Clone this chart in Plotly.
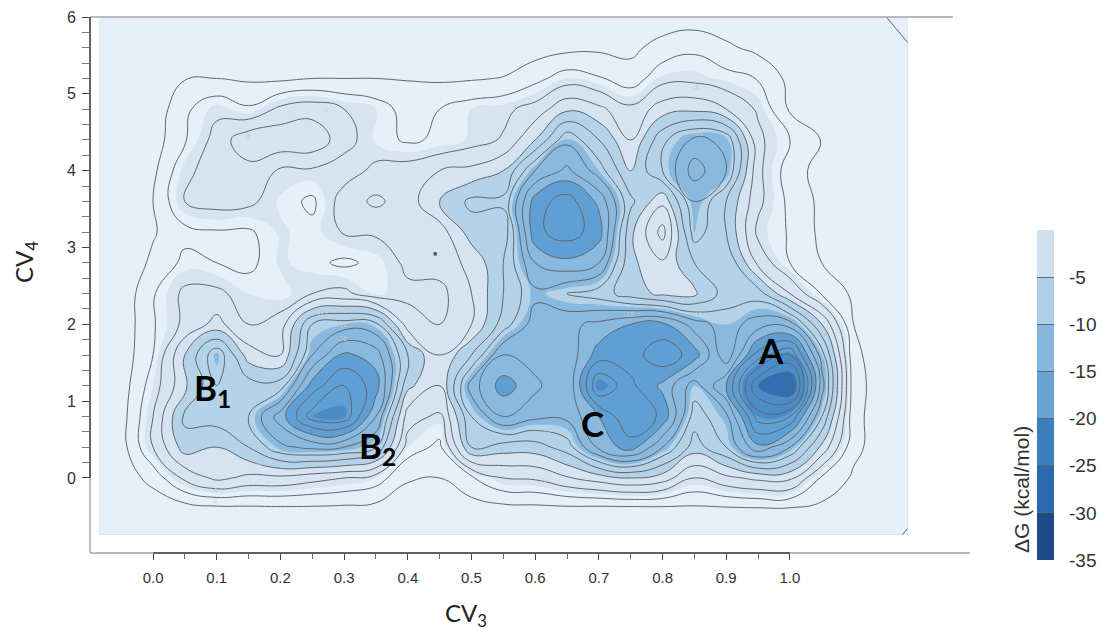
import plotly.graph_objects as go

xs = [-0.085, -0.05, 0.0, 0.05, 0.1, 0.15, 0.2, 0.25, 0.3, 0.35, 0.4, 0.45, 0.5, 0.55, 0.6, 0.65, 0.7, 0.75, 0.8, 0.85, 0.9, 0.95, 1.0, 1.05, 1.1, 1.15, 1.185]
ys = [-0.74, -0.4, 0.0, 0.4, 0.8, 1.2, 1.6, 2.0, 2.4, 2.8, 3.2, 3.6, 4.0, 4.4, 4.8, 5.2, 5.6, 6.0]
dg = [
 [-.4,-.4,-.4,-.4,-.4,-.4,-.4,-.4,-.4,-.4,-.4,-.4,-.4,-.4,-.4,-.4,-.4,-.4,-.4,-.4,-.4,-.4,-.4,-.4,-.4,-.3,.1],
 [-.3,-.4,-.6,-1.0,-1.4,-1.5,-1.6,-1.6,-1.5,-1.3,-.9,-.7,-1.0,-1.3,-1.4,-1.5,-1.4,-1.4,-1.5,-1.6,-1.7,-1.8,-1.8,-1.5,-1.0,-.4,-.3],
 [-.4,-.8,-2.7,-6.5,-8.5,-7.5,-7.5,-6.7,-6,-5,-2.2,-2,-3.7,-6,-6.3,-7.8,-9,-10,-9,-6,-7.5,-8.5,-8.5,-3.7,-1.7,-.6,-.4],
 [-.4,-1.1,-6,-11,-10,-12,-15.5,-16.5,-16,-14,-5,-3.5,-12,-11,-11,-13,-18.5,-21,-16,-11,-14,-19.5,-16,-9.5,-2.5,-.9,-.5],
 [-.4,-1.1,-6,-12.5,-13,-14,-19,-25,-25.5,-18,-7,-5.5,-14,-18,-16.5,-16.5,-20,-24,-21.5,-13,-15.5,-25,-24,-14,-2.6,-.8,-.4],
 [-.4,-.9,-5,-9.5,-14,-13,-13,-21,-24,-21,-10.5,-8,-17,-21,-18.5,-16,-26,-22.5,-19.5,-15,-20,-30,-33,-17,-2.8,-.8,-.4],
 [-.4,-.7,-4,-10,-15.5,-9,-8,-16,-20.5,-19,-12,-8,-12,-18,-17,-16.5,-21,-21,-23.5,-21,-14.5,-23,-26,-15,-2.5,-.7,-.4],
 [-.3,-.6,-3.8,-6.5,-8.7,-6,-7,-14,-15,-14.5,-7,-6,-8,-13,-17,-17.5,-18.5,-20,-20.5,-17,-15,-17,-17,-10,-2,-.6,-.4],
 [-.3,-.5,-3.8,-6.5,-6.5,-5,-4.5,-6,-6.5,-4.8,-5.5,-5.3,-8,-12,-15.5,-14,-13,-11,-9.5,-9.5,-13,-13,-8,-3.8,-1.6,-.6,-.4],
 [-.3,-.5,-2.4,-4.5,-4,-3.5,-5.2,-4.5,-3.6,-4.5,-6.5,-7,-8.5,-12,-18,-19.5,-18,-10.5,-8.3,-12,-14,-7.5,-4,-2,-.8,-.4,-.3],
 [-.3,-.5,-1.8,-3.4,-3.8,-3.7,-5.2,-4.5,-6.2,-6.3,-6.5,-7,-11,-10.5,-21.5,-23,-21,-10.5,-5.2,-15,-12,-5.5,-3.8,-1.5,-.6,-.4,-.3],
 [-.3,-.5,-2,-6,-6.8,-6.5,-4.8,-3.6,-7,-8.4,-7,-10,-12.5,-12.5,-21,-23,-19.5,-12.5,-8.5,-16,-12,-6.5,-3.5,-1.5,-.6,-.4,-.3],
 [-.3,-.5,-1.5,-5.5,-7,-7.3,-5.7,-5.7,-5,-6.5,-7,-8,-8.5,-10,-16,-18.5,-15,-10,-14,-19,-16,-6.5,-3,-1.2,-.5,-.4,-.3],
 [-.3,-.4,-1,-3.8,-6.8,-9.5,-9.5,-9.5,-6.8,-4.8,-3.7,-4.3,-5.2,-6.2,-10,-15.5,-12,-8,-13.5,-16.5,-15.5,-6.5,-4,-1.9,-.6,-.4,-.3],
 [-.3,-.4,-.6,-3.6,-5.5,-4.3,-6.5,-7.2,-6,-5,-3.2,-4,-5,-5.5,-6.8,-9.6,-8.5,-6.5,-9,-9.5,-8,-5.7,-1.7,-.7,-.4,-.3,-.3],
 [-.3,-.4,-.5,-1.9,-2,-1.7,-1.6,-2,-2,-2,-1.9,-1.7,-1.8,-2.1,-3.4,-5,-4.2,-2.9,-5.3,-5.4,-4.7,-3.9,-1.4,-.6,-.4,-.3,-.3],
 [-.3,-.3,-.3,-.3,-.3,-.3,-.3,-.3,-.3,-.3,-.3,-.3,-.4,-.5,-1,-1.4,-1.6,-1.5,-2.8,-3.6,-2.4,-1.4,-.7,-.4,-.3,-.3,-.1],
 [-.3,-.3,-.3,-.3,-.3,-.3,-.3,-.3,-.3,-.3,-.3,-.3,-.3,-.3,-.3,-.4,-.4,-.4,-.7,-.8,-.6,-.4,-.3,-.3,-.2,-.02,.5],
]
fill_colors = ["#2f6fb5", "#4a8cc8", "#5f9fd3", "#8ab9df", "#b4d2e8", "#d6e4f1", "#e6f0f9"]
bar_values = [-32.5, -27.5, -22.5, -17.5, -12.5, -7.5, -2.5]
bar_colors = ["#1c4a8a", "#2a69ad", "#3c7fc0", "#6aa3cf", "#85b6e0", "#aecde6", "#cfe0f0"]
bar_ticks = [-5, -10, -15, -20, -25, -30, -35]
bar_tick_text = ["-5", "-10", "-15", "-20", "-25", "-30", "-35"]
x_ticks = [0.0, 0.1, 0.2, 0.3, 0.4, 0.5, 0.6, 0.7, 0.8, 0.9, 1.0]
x_minor = [0.05, 0.15, 0.25, 0.35, 0.45, 0.55, 0.65, 0.75, 0.85, 0.95]
y_ticks = [0, 1, 2, 3, 4, 5, 6]
y_minor = [i / 5 for i in range(31) if i % 5]
labels = [("A", 0.97, 1.667), ("B<sub>1</sub>", 0.093, 1.146), ("B<sub>2</sub>", 0.353, 0.40), ("C", 0.69, 0.716)]
level_x = [0.095, 0.095, 0.163, 0.267, 0.296, 0.297, 0.615, 0.747, 0.854, 0.61, 0.853, 0.855, 0.27, 0.148]
level_y = [-0.29, -0.16, 0.2, 2.14, 1.99, 1.82, 0.62, 2.13, 2.13, -0.03, 5.08, 4.49, 4.8, 4.44]
level_v = [-2, -4, -10, -12, -14, -16, -18, -18, -16, -6, -8, -16, -6, -8]
dot_x = [0.443]
dot_y = [2.917]

def stepped(colors):
    n = len(colors)
    out = []
    for i, c in enumerate(colors):
        out += [[i / n, c], [(i + 1) / n, c]]
    return out

W, H = 1103, 630
fig = go.Figure()
fig.add_trace(go.Contour(x=xs, y=ys, z=dg, zmin=-35, zmax=0, colorscale=stepped(fill_colors), showscale=False,
    autocontour=False, contours=dict(start=-35, end=0, size=5, coloring="fill", showlines=False),
    line=dict(width=0, smoothing=1.3), hoverinfo="skip"))
fig.add_trace(go.Contour(x=xs, y=ys, z=dg, showscale=False, autocontour=False,
    contours=dict(start=-34, end=0, size=2, coloring="none"),
    line=dict(color="#5e666e", width=1, smoothing=1.3), hoverinfo="skip"))
fig.add_trace(go.Scatter(x=dot_x, y=dot_y, mode="markers", marker=dict(size=4, color="#55606a"), hoverinfo="skip"))
fig.add_trace(go.Heatmap(x=[0], y=bar_values, z=[[v] for v in bar_values], xaxis="x2", yaxis="y2", showscale=False,
    zmin=-35, zmax=0, colorscale=stepped(bar_colors), hoverinfo="skip"))

for x, y, v in zip(level_x, level_y, level_v):
    fig.add_annotation(x=x, y=y, text=str(v), showarrow=False,
        font=dict(family="Liberation Sans", size=7, color="#c2ccd6"))
for t, x, y in labels:
    fig.add_annotation(x=x, y=y, text="<b>%s</b>" % t, showarrow=False, font=dict(family="Lato", size=35, color="#000"))
center = dict(xanchor="center", yanchor="middle", xref="paper", yref="paper", showarrow=False)
fig.add_annotation(x=466 / W, y=1 - 614 / H, text="CV<sub>3</sub>", font=dict(family="Lato", size=24, color="#222"), **center)
fig.add_annotation(x=25 / W, y=1 - 262 / H, text="CV<sub>4</sub>", textangle=-90, font=dict(family="Lato", size=24, color="#222"), **center)
fig.add_annotation(x=1021 / W, y=1 - 490 / H, text="\u0394G (kcal/mol)", textangle=-90, font=dict(family="Liberation Sans", size=21, color="#333"), **center)

frame = dict(color="#a6a6a6", width=1.5)
dark = dict(color="#444444", width=1.5)
shapes = [
    dict(type="line", xref="paper", yref="paper", x0=90 / W, x1=953 / W, y0=1 - 17 / H, y1=1 - 17 / H, line=frame),
    dict(type="line", xref="paper", yref="paper", x0=90 / W, x1=970 / W, y0=1 - 553 / H, y1=1 - 553 / H, line=frame),
    dict(type="line", xref="paper", yref="paper", x0=90 / W, x1=90 / W, y0=1 - 553 / H, y1=1 - 17 / H, line=frame),
    dict(type="line", xref="x", yref="paper", x0=x_ticks[0], x1=x_ticks[-1], y0=1 - 553 / H, y1=1 - 553 / H, line=dark),
    dict(type="line", xref="paper", yref="y", x0=90 / W, x1=90 / W, y0=y_ticks[0], y1=y_ticks[-1], line=dark),
]

fig.update_layout(width=W, height=H, margin=dict(l=0, r=0, t=0, b=0), paper_bgcolor="white", plot_bgcolor="white", showlegend=False, shapes=shapes,
    xaxis=dict(domain=[90 / W, 953 / W], range=[-0.099, 1.256], automargin=False, tickvals=x_ticks, tickformat=".1f", ticks="outside", ticklen=6, tickcolor="#444",
        showgrid=False, zeroline=False, showline=False, ticklabelstandoff=5,
        minor=dict(tickvals=x_minor, ticks="outside", ticklen=5, tickcolor="#666"), tickfont=dict(family="Liberation Sans", size=15, color="#333")),
    yaxis=dict(domain=[1 - 553 / H, 1 - 17 / H], range=[-0.977, 6.0], automargin=False, tickvals=y_ticks, ticks="outside", ticklen=7, tickcolor="#444",
        showgrid=False, zeroline=False, showline=False, ticklabelstandoff=3,
        minor=dict(tickvals=y_minor, ticks="outside", ticklen=7, tickcolor="#777"),
        tickfont=dict(family="Liberation Sans", size=16, color="#333")),
    xaxis2=dict(domain=[1037 / W, 1054 / W], visible=False, anchor="y2", automargin=False),
    yaxis2=dict(domain=[1 - 560 / H, 1 - 230 / H], range=[-35, 0], anchor="x2", side="right", automargin=False, tickvals=bar_ticks, ticktext=bar_tick_text, ticks="inside", ticklen=17,
        tickcolor="#5a6a7a", showgrid=False, zeroline=False, showline=False, ticklabelstandoff=14,
        tickfont=dict(family="Liberation Sans", size=19, color="#333")))
fig.write_html("out.html", config=dict(displayModeBar=False), post_script="document.body.style.margin='0';")
